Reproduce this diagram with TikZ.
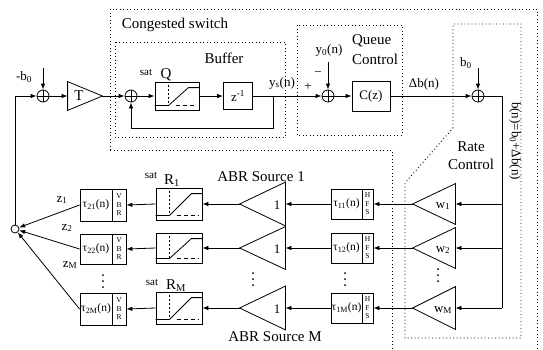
\documentclass[tikz,border=0pt]{standalone}
\usepackage{fontspec}
\setmainfont{Liberation Serif}
\usetikzlibrary{arrows.meta,calc}
\newcommand{\satcurve}[1]{%
  \draw[line width=0.7pt, dash pattern=on 2pt off 2pt] ($(#1.north west)+(14,3)$) -- ($(#1.south west)+(14,-4)$);
  \draw[line width=0.8pt] ($(#1.south west)+(0,-5)$) -- ($(#1.south west)+(14,-5)$) -- ($(#1.north east)+(-11,6)$) -- ($(#1.north east)+(0,6)$);
  \draw[line width=0.8pt, dash pattern=on 4pt off 3pt] ($(#1.south west)+(21,-5)$) -- ($(#1.south east)+(-3,-5)$);
}
\newcommand{\lefttri}[1]{\draw (#1.west) -- (#1.north east) -- (#1.south east) -- cycle;}
\newcommand{\vdotsat}[2]{\fill (#1,#2-6) circle (1pt) (#1,#2) circle (1pt) (#1,#2+6) circle (1pt);}
\begin{document}
\begin{tikzpicture}[x=1pt,y=-1pt, line width=0.8pt,
  arr/.style={-{Latex[length=6pt,width=4.5pt]}},
  blk/.style={draw, rectangle, inner sep=0pt},
  sumnode/.style={circle, draw, minimum size=12pt, inner sep=0pt,
    path picture={\draw (path picture bounding box.north) -- (path picture bounding box.south)
      (path picture bounding box.west) -- (path picture bounding box.east);}},
  tri/.style={rectangle, inner sep=0pt},
  dotbox/.style={line width=0.9pt, dash pattern=on 0.9pt off 2.6pt},
  lbl/.style={font=\fontsize{15}{18}\selectfont, inner sep=0pt},
  sig/.style={font=\fontsize{13}{15}\selectfont, inner sep=0pt},
  tau/.style={font=\fontsize{11.5}{13}\selectfont, inner sep=0pt},
  small/.style={font=\fontsize{11}{12}\selectfont, inner sep=0pt},
  letters/.style={draw, rectangle, font=\fontsize{7.5}{8.5}\selectfont, align=center, inner sep=0pt}
]
\useasboundingbox (0,0) rectangle (543,349);

% dotted boundaries
\draw[dotbox] (110,150) -- (110,9) -- (537,9) -- (537,348);
\draw[dotbox] (110,150) -- (392,150) -- (392,348);
\draw[dotbox] (115,42) rectangle (285,137);
\draw[dotbox] (297,25) rectangle (402,135);
\draw[dotbox] (453,128) -- (453,24) -- (521,24) -- (521,338) -- (405,338) -- (405,183) -- cycle;

% labels
\node[lbl] (lcs) at (175,25) {Congested switch};
\node[lbl] (lbuf) at (224,58) {Buffer};
\node[lbl, align=left, font=\fontsize{15}{20}\selectfont] (lqc) at (375,50) {Queue\\Control};
\node[lbl, align=center] (lrc) at (471,156) {Rate\\Control};
\node[lbl] (labr1) at (261,177) {ABR Source 1};
\node[lbl] (labrM) at (275,337) {ABR Source M};

% top row
\node[sumnode] (S1) at (43,96) {};
\coordinate (B0in) at (43,68);
\node[sig] (lmb0) at (24,77) {-b\textsubscript{0}};
\node[tri, minimum width=34pt, minimum height=28pt] (T) at (85,96) {};
\draw (T.north west) -- (T.east) -- (T.south west) -- cycle;
\node[lbl] (lT) at (79,96) {T};
\node[sumnode] (S2) at (131,96) {};
\node[blk, minimum width=44pt, minimum height=28pt] (SQ) at (177,96) {};
\satcurve{SQ}
\node[small] (lsatq) at (146,72) {sat};
\node[lbl] (lq) at (166,75) {Q};
\node[blk, sig, minimum width=29pt, minimum height=27pt] (Z) at (238,96) {z\textsuperscript{-1}};
\coordinate (Br) at (273,96);
\coordinate (Bb) at (273,128);
\node[sig] (lys) at (282,83) {y\textsubscript{s}(n)};
\node[sumnode] (S3) at (328,96) {};
\node[sig] (lplus) at (308,87) {+};
\node[sig] (lminus) at (318,74) {−};
\node[sig] (ly0) at (329,50) {y\textsubscript{0}(n)};
\coordinate (Y0in) at (328,62);
\node[blk, sig, minimum width=38pt, minimum height=30pt] (C) at (371,96) {C(z)};
\node[sig] (ldb) at (424,84) {Δb(n)};
\node[sumnode] (S4) at (478,96) {};
\node[sig] (lb0) at (466,63) {b\textsubscript{0}};
\coordinate (B0in2) at (478,68);
\coordinate (R0) at (502,96);
\node[sig, rotate=-90] (lbn) at (515,141) {b(n)=b\textsubscript{0}+Δb(n)};

\draw[arr] (B0in) -- (S1.north);
\draw[arr] (S1.east) -- (T.west);
\draw[arr] (T.east) -- (S2.west);
\draw[arr] (S2.east) -- (SQ.west);
\draw[arr] (SQ.east) -- (Z.west);
\draw (Z.east) -- (Br);
\draw[arr] (Br) -- (S3.west);
\draw[arr] (Br) -- (Bb) -| (S2.south);
\draw[arr] (Y0in) -- (S3.north);
\draw[arr] (S3.east) -- (C.west);
\draw[arr] (C.east) -- (S4.west);
\draw[arr] (B0in2) -- (S4.north);

% rate control gains
\coordinate (V1) at (502,204);
\coordinate (V2) at (502,248);
\coordinate (VM) at (502,308);
\draw (S4.east) -- (R0) -- (VM);
\node[tri, minimum width=42pt, minimum height=40pt] (W1) at (434,204) {};
\node[tri, minimum width=42pt, minimum height=40pt] (W2) at (434,248) {};
\node[tri, minimum width=42pt, minimum height=42pt] (WM) at (434,308) {};
\lefttri{W1}\lefttri{W2}\lefttri{WM}
\node[sig] (lw1) at (443,206) {w\textsubscript{1}};
\node[sig] (lw2) at (443,250) {w\textsubscript{2}};
\node[sig] (lwM) at (443,310) {w\textsubscript{M}};
\draw[arr] (V1) -- (W1.east);
\draw[arr] (V2) -- (W2.east);
\draw[arr] (VM) -- (WM.east);

% tau1 boxes (HFS)
\node[blk, tau, minimum width=31pt, minimum height=30pt] (P1) at (346.5,204) {τ\textsubscript{11}(n)};
\node[letters, minimum width=11pt, minimum height=30pt] (H1) at (367.5,204) {H\\F\\S};
\node[blk, tau, minimum width=31pt, minimum height=30pt] (P2) at (346.5,248) {τ\textsubscript{12}(n)};
\node[letters, minimum width=11pt, minimum height=30pt] (H2) at (367.5,248) {H\\F\\S};
\node[blk, tau, minimum width=31pt, minimum height=30pt] (PM) at (346.5,308) {τ\textsubscript{1M}(n)};
\node[letters, minimum width=11pt, minimum height=30pt] (HM) at (367.5,308) {H\\F\\S};
\draw[arr] (W1.west) -- (H1.east);
\draw[arr] (W2.west) -- (H2.east);
\draw[arr] (WM.west) -- (HM.east);

% unit gains
\node[tri, minimum width=45pt, minimum height=43pt] (G1) at (262.5,204) {};
\node[tri, minimum width=45pt, minimum height=42pt] (G2) at (262.5,248) {};
\node[tri, minimum width=45pt, minimum height=43pt] (GM) at (262.5,308) {};
\lefttri{G1}\lefttri{G2}\lefttri{GM}
\node[sig] (lg1) at (277,205) {1};
\node[sig] (lg2) at (277,249) {1};
\node[sig] (lgM) at (277,309) {1};
\draw[arr] (P1.west) -- (G1.east);
\draw[arr] (P2.west) -- (G2.east);
\draw[arr] (PM.west) -- (GM.east);

% saturation boxes
\node[blk, minimum width=46pt, minimum height=32pt] (R1) at (179,204) {};
\node[blk, minimum width=46pt, minimum height=30pt] (R2) at (179,248) {};
\node[blk, minimum width=46pt, minimum height=32pt] (RM) at (179,308) {};
\satcurve{R1}\satcurve{R2}\satcurve{RM}
\node[small] (lsat1) at (151,175) {sat};
\node[lbl] (lr1) at (172,181) {R\textsubscript{1}};
\node[small] (lsatM) at (152,282) {sat};
\node[lbl] (lrM) at (176,286) {R\textsubscript{M}};
\draw[arr] (G1.west) -- (R1.east);
\draw[arr] (G2.west) -- (R2.east);
\draw[arr] (GM.west) -- (RM.east);

% tau2 boxes (VBR)
\node[blk, tau, minimum width=32pt, minimum height=32pt] (Q1) at (96,205) {τ\textsubscript{21}(n)};
\node[letters, minimum width=14pt, minimum height=32pt] (VB1) at (119,205) {V\\B\\R};
\node[blk, tau, minimum width=32pt, minimum height=30pt] (Q2) at (96,249) {τ\textsubscript{22}(n)};
\node[letters, minimum width=14pt, minimum height=30pt] (VB2) at (119,249) {V\\B\\R};
\node[blk, tau, minimum width=32pt, minimum height=32pt] (QM) at (96,309) {τ\textsubscript{2M}(n)};
\node[letters, minimum width=14pt, minimum height=32pt] (VBM) at (119,309) {V\\B\\R};
\draw[arr] (R1.west) -- (VB1.east);
\draw[arr] (R2.west) -- (VB2.east);
\draw[arr] (RM.west) -- (VBM.east);

% junction and feedback
\node[circle, draw, minimum size=8pt, inner sep=0pt] (J) at (15,229) {};
\draw[arr] (Q1.west) -- (J);
\draw[arr] (Q2.west) -- (J);
\draw[arr] (QM.west) -- (J);
\node[sig] (lz1) at (62,200) {z\textsubscript{1}};
\node[sig] (lz2) at (67,228) {z\textsubscript{2}};
\node[sig] (lzM) at (70,265) {z\textsubscript{M}};
\draw[arr] (J.north) |- (S1.west);

% ellipses
\vdotsat{103}{281}
\vdotsat{253}{279}
\vdotsat{345}{279}
\vdotsat{438}{275}
\end{tikzpicture}
\end{document}
